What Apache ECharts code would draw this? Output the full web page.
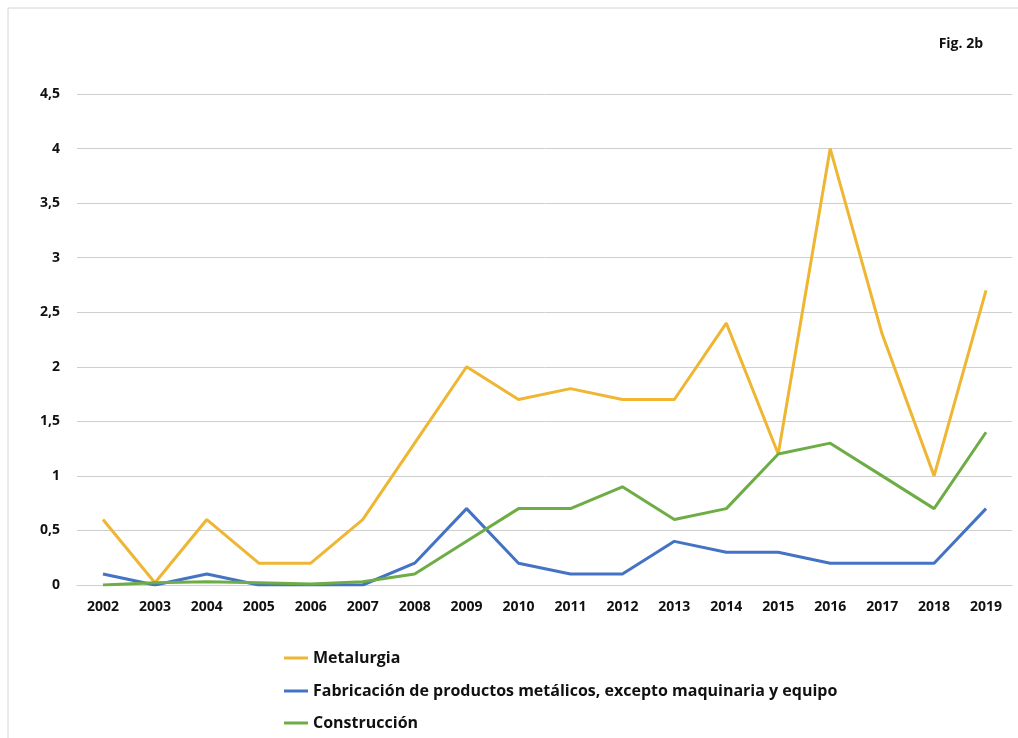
<!DOCTYPE html>
<html>
<head>
<meta charset="utf-8">
<script src="https://cdn.jsdelivr.net/npm/echarts@6/dist/echarts.min.js"></script>
<style>
html,body{margin:0;padding:0;background:#fff;}
#chart{width:1018px;height:738px;}
</style>
</head>
<body>
<div id="chart"></div>
<script>
const years = ['2002','2003','2004','2005','2006','2007','2008','2009','2010','2011','2012','2013','2014','2015','2016','2017','2018','2019'];
const metalurgia = [0.6,0.02,0.6,0.2,0.2,0.6,1.3,2.0,1.7,1.8,1.7,1.7,2.4,1.2,4.0,2.3,1.0,2.7];
const fabricacion = [0.1,0.0,0.1,0.0,0.0,0.0,0.2,0.7,0.2,0.1,0.1,0.4,0.3,0.3,0.2,0.2,0.2,0.7];
const construccion = [0.0,0.02,0.03,0.02,0.01,0.03,0.1,0.4,0.7,0.7,0.9,0.6,0.7,1.2,1.3,1.0,0.7,1.4];
const seriesNames = ['Metalurgia','Fabricación de productos metálicos, excepto maquinaria y equipo','Construcción'];
const titleText = 'Fig. 2b';

const chart = echarts.init(document.getElementById('chart'));
const font = 'Open Sans';
function mk(name, data, color){
  return {name:name,type:'line',data:data,symbol:'none',smooth:false,
    lineStyle:{color:color,width:3},itemStyle:{color:color}};
}
const legendTops = [650, 683, 715];
const legends = seriesNames.map((n,i)=>({
  orient:'vertical',left:284,top:legendTops[i],padding:0,itemWidth:24,itemHeight:3,icon:'rect',
  textStyle:{fontFamily:font,fontWeight:'bold',fontSize:16,color:'#111'},
  data:[n]
}));
chart.setOption({
  animation:false,
  backgroundColor:'#fff',
  graphic:[{type:'rect',shape:{x:8,y:8,width:1100,height:800},style:{fill:'none',stroke:'#d4d4d4',lineWidth:1}}],
  title:{text:titleText,right:30,top:32,textStyle:{fontFamily:font,fontWeight:'bold',fontSize:14,color:'#111'}},
  grid:{left:77,right:6,top:94,bottom:153},
  xAxis:{type:'category',data:years,boundaryGap:true,
    axisLine:{lineStyle:{color:'#cfcfcf',width:1}},axisTick:{show:false},
    axisLabel:{fontFamily:font,fontWeight:'bold',fontSize:14,color:'#111',margin:15}},
  yAxis:{type:'value',min:0,max:4.5,interval:0.5,
    axisLine:{show:false},axisTick:{show:false},
    splitLine:{lineStyle:{color:'#cfcfcf',width:1}},
    axisLabel:{fontFamily:font,fontWeight:'bold',fontSize:14,color:'#111',margin:17,
      formatter:v=>String(v).replace('.',',')}},
  legend:legends,
  series:[
    mk(seriesNames[0],metalurgia,'#EEB632'),
    mk(seriesNames[1],fabricacion,'#4472C4'),
    mk(seriesNames[2],construccion,'#6EAD45')
  ]
});
</script>
</body>
</html>
